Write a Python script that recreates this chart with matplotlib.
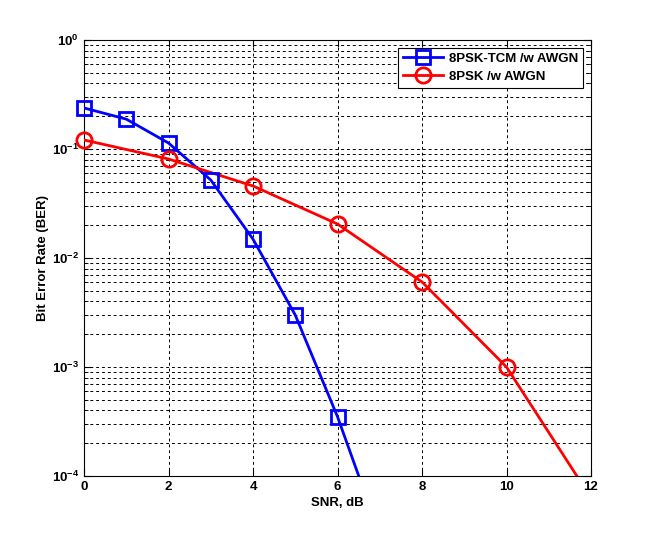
import matplotlib
matplotlib.use("Agg")
import matplotlib.pyplot as plt
from matplotlib.ticker import LogLocator, FixedLocator, NullFormatter

plt.rcParams['font.family'] = ['Liberation Sans', 'DejaVu Sans']
plt.rcParams['font.weight'] = 'bold'
plt.rcParams['mathtext.fontset'] = 'custom'
plt.rcParams['mathtext.rm'] = 'Liberation Sans:bold'
plt.rcParams['mathtext.bf'] = 'Liberation Sans:bold'
plt.rcParams['mathtext.it'] = 'Liberation Sans:bold'

snr_tcm = [0, 1, 2, 3, 4, 5, 6, 7]
ber_tcm = [0.238, 0.188, 0.1135, 0.052, 0.0149, 0.0030, 3.5e-4, 2.9e-5]
snr_psk = [0, 2, 4, 6, 8, 10, 12]
ber_psk = [0.121, 0.081, 0.0458, 0.0205, 0.00603, 0.001, 6.3e-5]
label_tcm = '8PSK-TCM /w AWGN'
label_psk = '8PSK /w AWGN'
xticks = [0, 2, 4, 6, 8, 10, 12]
yticks = [1e-4, 1e-3, 1e-2, 1e-1, 1e0]
yticklabels = [r'$10^{-4}$', r'$10^{-3}$', r'$10^{-2}$', r'$10^{-1}$', r'$10^{0}$']

YMIN, YMAX = 1e-4, 1e0

fig = plt.figure(figsize=(6.54, 5.36), dpi=100)
ax = fig.add_axes([84/654, 1-476/536, (591-84)/654, (476-40)/536])

def plot_series(x, y, color, marker, ms, label):
    # clipped line
    ax.semilogy(x, y, color=color, lw=2, label='_nolegend_', zorder=3)
    # unclipped markers for points inside the axis range (MATLAB style)
    idx = [i for i, v in enumerate(y) if YMIN <= v <= YMAX]
    ax.semilogy([x[i] for i in idx], [y[i] for i in idx], ls='none',
                marker=marker, ms=ms, mfc='none', mec=color, mew=2,
                clip_on=False, zorder=4)
    ax.plot([], [], color=color, lw=2, marker=marker, ms=ms, mfc='none',
            mec=color, mew=2, label=label)

plot_series(snr_tcm, ber_tcm, '#0000ff', 's', 10, label_tcm)
plot_series(snr_psk, ber_psk, '#ff0000', 'o', 11, label_psk)

ax.set_xlim(0, 12)
ax.set_ylim(YMIN, YMAX)
ax.xaxis.set_major_locator(FixedLocator(xticks))
ax.set_xticklabels([str(t) for t in xticks])
ax.yaxis.set_major_locator(FixedLocator(yticks))
ax.set_yticklabels(yticklabels)
ax.yaxis.set_minor_locator(LogLocator(base=10, subs=range(2, 10)))
ax.yaxis.set_minor_formatter(NullFormatter())

ax.grid(True, which='major', axis='both', color='black', lw=0.7, ls=(0, (3, 3)))
ax.grid(True, which='minor', axis='y', color='black', lw=0.7, ls=(0, (3, 3)))
ax.tick_params(which='both', direction='in', top=True, right=True, labelsize=9.5)
ax.tick_params(which='major', length=5)
ax.tick_params(which='minor', length=3)
for s in ax.spines.values():
    s.set_linewidth(0.8)

ax.set_xlabel('SNR, dB', fontsize=9.5, fontweight='bold', labelpad=3)
ax.set_ylabel('Bit Error Rate (BER)', fontsize=9.5, fontweight='bold', labelpad=2)

leg = ax.legend(loc='upper right', fontsize=9.5, frameon=True, fancybox=False,
                edgecolor='black', framealpha=1, borderaxespad=0.6,
                handlelength=3, borderpad=0.35, labelspacing=0.45,
                handletextpad=0.5)
leg.get_frame().set_linewidth(0.8)

fig.savefig('out.png', dpi=100)
